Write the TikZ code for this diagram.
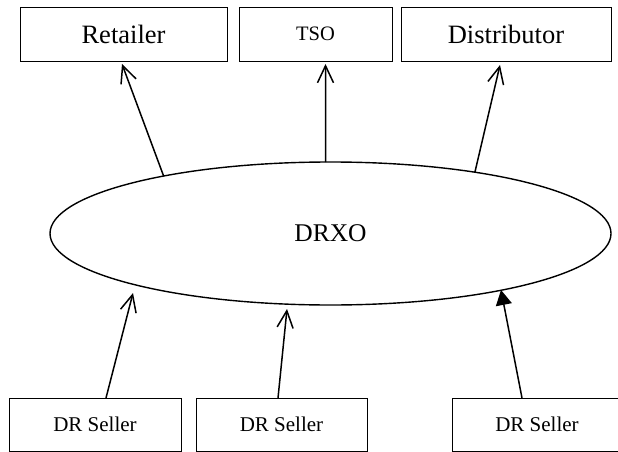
\documentclass[tikz,border=0pt]{standalone}
\usepackage{fontspec}
\setmainfont{Liberation Serif}
\usetikzlibrary{arrows.meta,shapes.geometric}
\tikzset{
  boxnode/.style={draw=black, line width=0.8pt, inner sep=0pt, outer sep=0pt, minimum height=54pt, align=center},
  sellerbox/.style={boxnode, minimum height=53pt, font=\fontsize{21}{24}\selectfont},
  bigtext/.style={font=\fontsize{26.5}{30}\selectfont},
  openarr/.style={line width=1.5pt, -{Straight Barb[length=17pt,width=16pt,line width=1.5pt]}},
  filledarr/.style={line width=1.5pt, -{Triangle[length=15pt,width=16pt]}}
}
\begin{document}
\begin{tikzpicture}[x=1pt,y=-1pt]
\useasboundingbox (0,0) rectangle (618,452);
\clip (0,0) rectangle (618,452);
% top boxes
\node[boxnode, bigtext, minimum width=207pt] (ret) at (123.5,34) {Retailer};
\node[boxnode, font=\fontsize{20.5}{24}\selectfont, minimum width=153pt] (tso) at (315.5,34) {TSO};
\node[boxnode, bigtext, minimum width=210pt] (dis) at (506,34) {Distributor};
% ellipse
\node[ellipse, draw=black, line width=1.4pt, inner sep=0pt, outer sep=0pt,
      minimum width=561pt, minimum height=143pt,
      font=\fontsize{25.5}{29}\selectfont] (drxo) at (330.5,233.5) {DRXO};
% bottom boxes
\node[sellerbox, minimum width=172pt] (s1) at (95,424.5) {DR Seller};
\node[sellerbox, minimum width=171pt] (s2) at (281.5,424.5) {DR Seller};
\node[sellerbox, minimum width=170pt] (s3) at (537,424.5) {DR Seller};
% connector end points
\coordinate (rt) at (122,64);
\coordinate (tt) at (325.5,64);
\coordinate (dt) at (500,65);
\coordinate (b1s) at (106,398);
\coordinate (b1t) at (133,293);
\coordinate (b2s) at (278,398);
\coordinate (b2t) at (287,309);
\coordinate (b3s) at (522,398);
\coordinate (b3t) at (501,290);
% top arrows
\draw[openarr] (drxo.161) -- (rt);
\draw[openarr] (drxo.94) -- (tt);
\draw[openarr] (drxo.23) -- (dt);
% bottom arrows
\draw[openarr] (b1s) -- (b1t);
\draw[openarr] (b2s) -- (b2t);
\draw[filledarr] (b3s) -- (b3t);
\end{tikzpicture}
\end{document}
